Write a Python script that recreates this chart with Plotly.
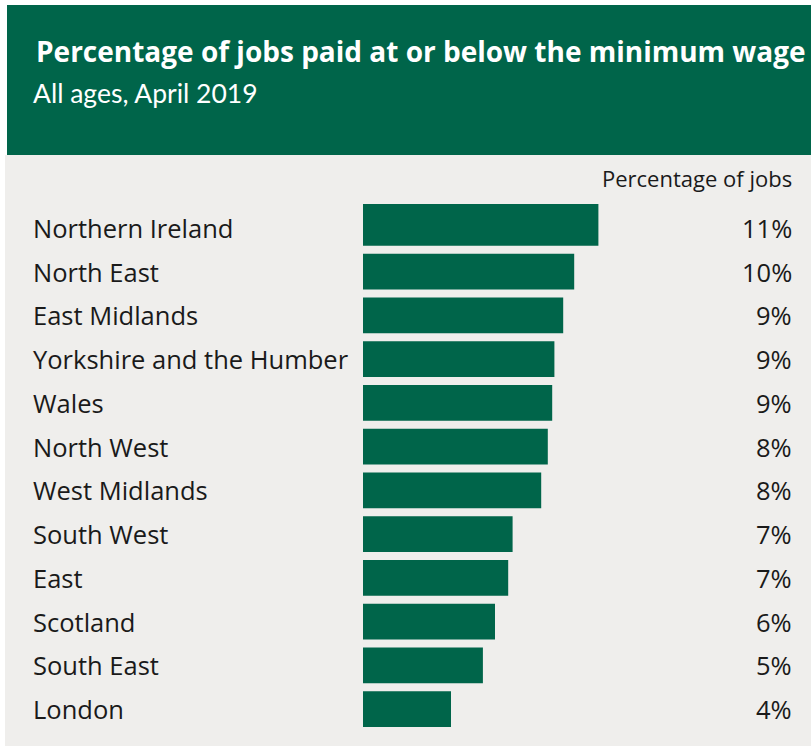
import plotly.graph_objects as go

# Share of jobs paid at or below the minimum wage, April 2019
regions = [
    "Northern Ireland", "North East", "East Midlands", "Yorkshire and the Humber",
    "Wales", "North West", "West Midlands", "South West", "East", "Scotland",
    "South East", "London",
]
pct_jobs = [10.7, 9.6, 9.1, 8.7, 8.6, 8.4, 8.1, 6.8, 6.6, 6.0, 5.45, 4.0]

title = "Percentage of jobs paid at or below the minimum wage"
subtitle = "All ages, April 2019"
column_head = "Percentage of jobs"

GREEN = "#00654A"
GREY = "#EFEEEC"
INK = "#1A1A1A"
BODY_FONT = "Open Sans"

W, H = 811, 747
L, R, T, B = 363, 0, 204, 16
PW, PH = W - L - R, H - T - B
ROW = PH / len(regions)
PX_PER_UNIT = 22.0


def px(x):
    return (x - L) / PW


def py(y):
    return (H - B - y) / PH


# bar thickness / offset per row (first row drawn slightly taller)
bar_px = [(202 - 226, 244 - 226)] + [(-18, 18)] * (len(regions) - 1)
offsets = [a / ROW for a, _ in bar_px]
widths = [(b - a) / ROW for a, b in bar_px]

fig = go.Figure(
    go.Bar(
        x=pct_jobs,
        y=regions,
        orientation="h",
        width=widths,
        offset=offsets,
        marker=dict(color=GREEN, line=dict(width=0)),
        hoverinfo="skip",
    )
)

shapes = [
    # grey panel behind the chart
    dict(type="rect", xref="paper", yref="paper", x0=px(5), x1=px(811),
         y0=py(746), y1=py(155), fillcolor=GREY, line=dict(width=0), layer="below"),
    # green header band
    dict(type="rect", xref="paper", yref="paper", x0=px(7), x1=px(811),
         y0=py(155), y1=py(5), fillcolor=GREEN, line=dict(width=0), layer="below"),
]

annotations = [
    dict(text=f"<b>{title}</b>", xref="paper", yref="paper", x=px(34), y=py(51),
         xanchor="left", yanchor="middle", showarrow=False,
         font=dict(family="Open Sans", size=28, color="white")),
    dict(text=subtitle, xref="paper", yref="paper", x=px(31), y=py(93),
         xanchor="left", yanchor="middle", showarrow=False,
         font=dict(family="Lato", size=26.5, color="white")),
    dict(text=column_head, xref="paper", yref="paper", x=px(794), y=py(178),
         xanchor="right", yanchor="middle", showarrow=False,
         font=dict(family=BODY_FONT, size=22, color=INK)),
]

for name, v in zip(regions, pct_jobs):
    annotations.append(dict(
        text=name, xref="paper", yref="y", x=px(31), y=name, yshift=0,
        xanchor="left", yanchor="middle", showarrow=False,
        font=dict(family=BODY_FONT, size=25.5, color=INK)))
    annotations.append(dict(
        text=f"{v:.0f}%", xref="paper", yref="y", x=px(794), y=name, yshift=0,
        xanchor="right", yanchor="middle", showarrow=False,
        font=dict(family=BODY_FONT, size=25.5, color=INK)))

fig.update_layout(
    width=W, height=H,
    margin=dict(l=L, r=R, t=T, b=B, pad=0),
    paper_bgcolor="white",
    plot_bgcolor=GREY,
    showlegend=False,
    xaxis=dict(range=[0, PW / PX_PER_UNIT], visible=False, fixedrange=True),
    yaxis=dict(categoryorder="array", categoryarray=regions, autorange="reversed",
               visible=False, fixedrange=True),
    shapes=shapes,
    annotations=annotations,
)

fig.write_html("out.html", config={"displayModeBar": False})
